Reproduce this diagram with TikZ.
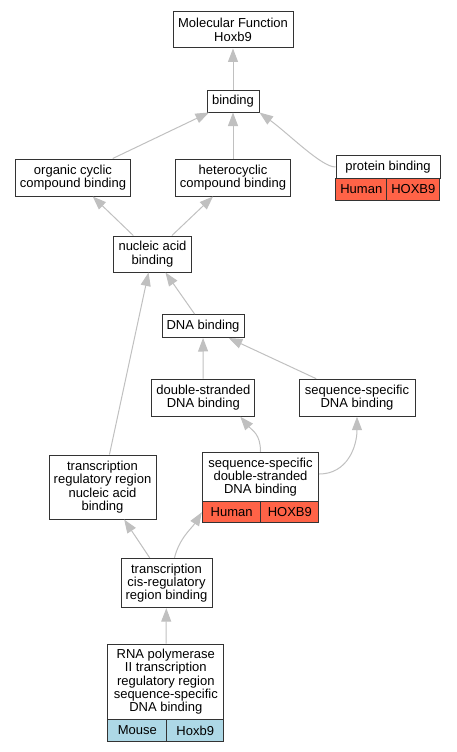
\documentclass[tikz,border=0pt]{standalone}
\usepackage{fontspec}
\setmainfont{Liberation Sans}
\usepackage{xcolor}
\usepackage{tikz}
\usetikzlibrary{shapes,arrows,arrows.meta,positioning}

\definecolor{edgegray}{HTML}{C0C0C0}
\definecolor{humanred}{HTML}{FF6347}
\definecolor{mouseblue}{HTML}{ADD8E6}
\definecolor{boxline}{HTML}{333333}

\begin{document}
\begin{tikzpicture}[
        x=1pt, y=-1pt,
        font=\fontsize{13}{13.3}\selectfont,
        term/.style={rectangle, draw=boxline, fill=white, line width=1pt, inner sep=0pt, align=center},
        human/.style={term, fill=humanred},
        mouse/.style={term, fill=mouseblue},
        arrow/.style={draw=edgegray, line width=1pt, ->, >={Triangle[length=13.5pt,width=10pt]}}
    ]
        \useasboundingbox (0,0) rectangle (456,752);

        % GO terms
        \node[term, minimum width=120pt, minimum height=36pt] (mf1) at (233,30) {Molecular Function\\Hoxb9};
        \node[term, minimum width=52pt, minimum height=22pt] (bind1) at (233,101) {binding};
        \node[term, minimum width=115pt, minimum height=37pt] (ocyc1) at (73,177.5) {organic cyclic\\compound binding};
        \node[term, minimum width=115pt, minimum height=37pt] (hcyc1) at (233,177.5) {heterocyclic\\compound binding};
        \node[term, minimum width=104pt, minimum height=22.5pt] (prot1) at (388,167) {protein binding};
        \node[human, minimum width=51pt, minimum height=22pt] (protA) at (361.3,189.2) {Human};
        \node[human, minimum width=53pt, minimum height=22pt] (protB) at (413.3,189.2) {HOXB9};
        \node[term, minimum width=78pt, minimum height=36pt] (nuc1) at (152.5,254) {nucleic acid\\binding};
        \node[term, minimum width=82pt, minimum height=23pt] (dna1) at (203,326) {DNA binding};
        \node[term, minimum width=103pt, minimum height=37pt] (ds1) at (203.3,397.7) {double-stranded\\DNA binding};
        \node[term, minimum width=116pt, minimum height=37pt] (ss1) at (357,397.7) {sequence-specific\\DNA binding};
        \node[term, minimum width=116.4pt, minimum height=49.4pt] (ssds1) at (260.5,477) {sequence-specific\\double-stranded\\DNA binding};
        \node[human, minimum width=58.7pt, minimum height=21pt] (ssdsA) at (231.7,512.2) {Human};
        \node[human, minimum width=57.7pt, minimum height=21pt] (ssdsB) at (289.8,512.2) {HOXB9};
        \node[term, minimum width=107pt, minimum height=64pt] (trr1) at (102.5,487) {transcription\\regulatory region\\nucleic acid\\binding};
        \node[term, minimum width=91pt, minimum height=49.4pt] (cis1) at (166.5,583) {transcription\\cis-regulatory\\region binding};
        \node[term, minimum width=115.7pt, minimum height=75.3pt] (rna1) at (165.8,681.7) {RNA polymerase\\II transcription\\regulatory region\\sequence-specific\\DNA binding};
        \node[mouse, minimum width=58.7pt, minimum height=22.4pt] (rnaA) at (137.3,730.5) {Mouse};
        \node[mouse, minimum width=57pt, minimum height=22.4pt] (rnaB) at (195.2,730.5) {Hoxb9};

        % is_a links
        \draw[arrow] (bind1) -- (mf1);
        \draw[arrow] (ocyc1) -- (bind1);
        \draw[arrow] (hcyc1) -- (bind1);
        \draw[arrow] (prot1.west) .. controls +(-14,0) and +(30,22) .. (bind1.south east);
        \draw[arrow] (nuc1) -- (ocyc1);
        \draw[arrow] (nuc1) -- (hcyc1);
        \draw[arrow] (dna1) -- (nuc1);
        \draw[arrow] (trr1) -- (nuc1);
        \draw[arrow] (ds1) -- (dna1);
        \draw[arrow] (ss1) -- (dna1);
        \draw[arrow] (ssds1.north) .. controls +(0,-18) and +(12,14) .. ([xshift=-15pt]ds1.south east);
        \draw[arrow] ([yshift=3pt]ssds1.east) .. controls +(28,0) and +(0,30) .. (ss1.south);
        \draw[arrow] (cis1) -- (trr1);
        \draw[arrow] ([xshift=8pt]cis1.north) .. controls +(5,-20) and +(-10,16) .. (ssdsA.west);
        \draw[arrow] (rna1) -- (cis1);
    \end{tikzpicture}
\end{document}
